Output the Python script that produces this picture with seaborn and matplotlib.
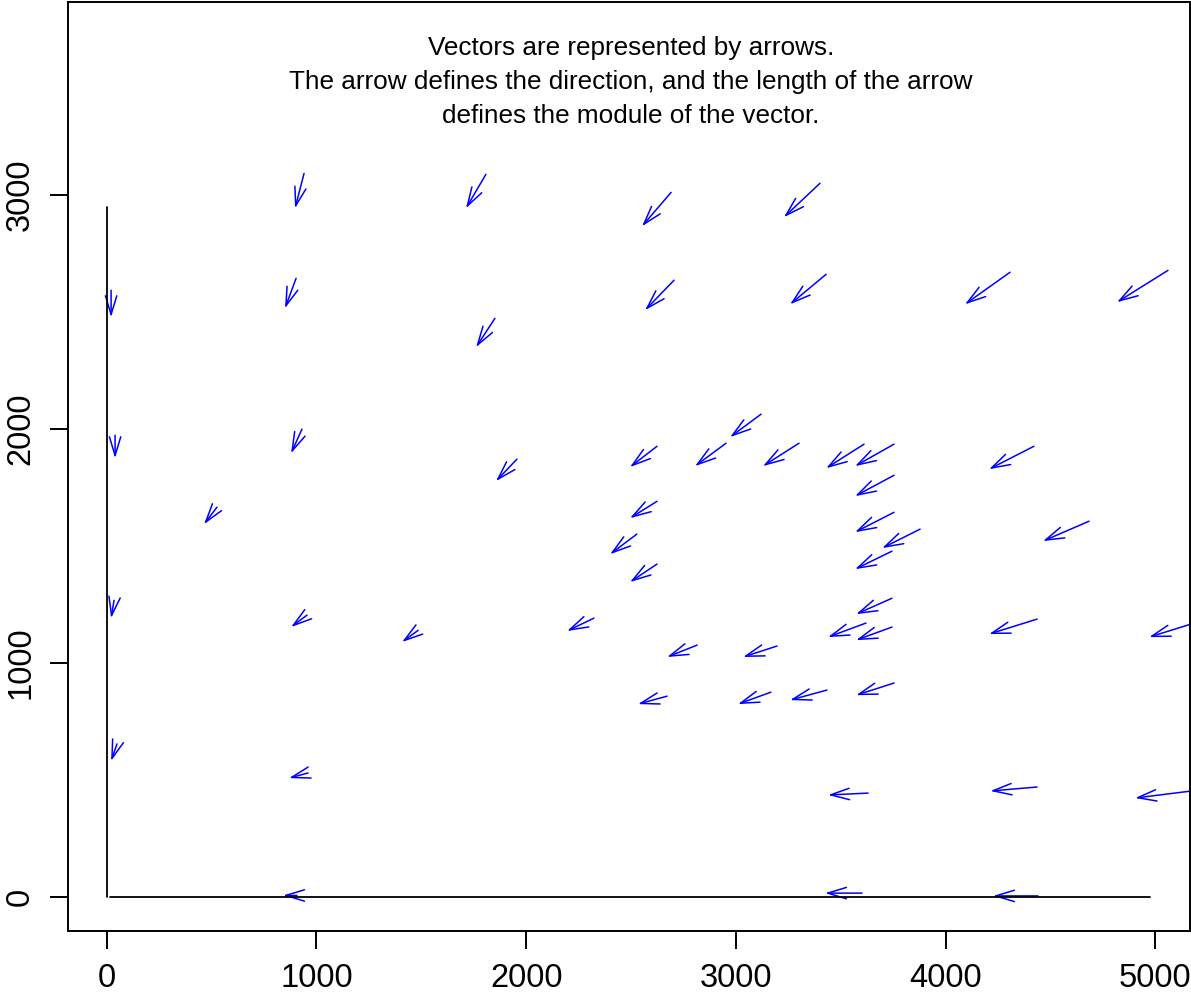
import numpy as np
import pandas as pd
import matplotlib
matplotlib.use("Agg")
import matplotlib.pyplot as plt
from matplotlib.patches import FancyArrowPatch
import seaborn as sns

# ---- data: arrow tails (x0, y0) and heads (x1, y1) ----
x0 = [941, 1808, 2691, 3401,
      21, 903, 2705, 3430, 4307, 5060, 1851,
      40, 931, 1956, 2624, 2953, 3120, 3301, 3611, 3754, 4421,
      3754, 2624, 526, 3754, 3878, 4684, 2528, 3744, 2624,
      35, 955, 1485, 2323, 3744, 3620, 3744, 5200, 4436,
      2815, 3196, 2672, 3167, 3434, 3754,
      49, 960, 3630, 4436, 5190,
      907, 3601, 4440]
y0 = [3091, 3087, 3010, 3049,
      2592, 2643, 2635, 2660, 2669, 2677, 2472,
      1973, 1999, 1871, 1926, 1939, 2063, 1939, 1935, 1935, 1926,
      1802, 1691, 1666, 1644, 1572, 1606, 1551, 1478, 1423,
      1268, 1205, 1140, 1192, 1277, 1171, 1154, 1175, 1188,
      1077, 1073, 859, 876, 885, 915,
      655, 531, 445, 471, 456,
      8, 18, 6]
x1 = [898, 1713, 2552, 3229,
      21, 850, 2567, 3258, 4092, 4817, 1761,
      40, 879, 1856, 2495, 2805, 2972, 3129, 3430, 3568, 4207,
      3568, 2495, 464, 3568, 3697, 4464, 2400, 3568, 2495,
      21, 879, 1408, 2195, 3573, 3439, 3573, 4970, 4207,
      2672, 3034, 2533, 3010, 3258, 3573,
      21, 869, 3439, 4213, 4903,
      841, 3425, 4226]
y1 = [2942, 2942, 2865, 2904,
      2477, 2515, 2507, 2532, 2532, 2541, 2349,
      1875, 1896, 1777, 1837, 1841, 1965, 1841, 1832, 1841, 1828,
      1713, 1619, 1593, 1559, 1491, 1521, 1465, 1401, 1346,
      1192, 1154, 1090, 1137, 1209, 1111, 1098, 1111, 1124,
      1026, 1026, 825, 825, 842, 863,
      582, 509, 437, 454, 424,
      8, 18, 6]

# reference axis lines drawn inside the plot
line_x = [0, 0, 15, 4975]
line_y = [0, 2946, 0, 0]
line_seg = ["v", "v", "h", "h"]

x_ticks = [0, 1000, 2000, 3000, 4000, 5000]
y_ticks = [0, 1000, 2000, 3000]

title_lines = ["Vectors are represented by arrows.",
               "The arrow defines the direction, and the length of the arrow",
               "defines the module of the vector."]

sns.set_theme(style="white")
plt.rcParams["font.family"] = ["Liberation Sans", "DejaVu Sans"]

fig = plt.figure(figsize=(11.91, 10), dpi=100)
W, H = 1191, 1000
ax = fig.add_axes([68 / W, (H - 930.7) / H, (1190 - 68) / W, (930.7 - 1.5) / H])

lines_df = pd.DataFrame({"x": line_x, "y": line_y, "seg": line_seg})
sns.lineplot(data=lines_df, x="x", y="y", units="seg", estimator=None,
             sort=False, color="black", linewidth=1.3, ax=ax, legend=False)

for a, b, c, d in zip(x0, y0, x1, y1):
    arr = FancyArrowPatch((a, b), (c, d),
                          arrowstyle="->,head_length=13.5,head_width=4.1",
                          mutation_scale=1, color="#0000ff", linewidth=1.1,
                          shrinkA=0, shrinkB=0)
    ax.add_patch(arr)

ax.text(2500, 3482, "\n".join(title_lines), ha="center", va="center",
        fontsize=18.8, linespacing=1.52, color="black")

ax.set_xlim(-184.5, 5165)
ax.set_ylim(-142.5, 3825)
ax.set_xticks(x_ticks)
ax.set_xticklabels([str(t) for t in x_ticks], fontsize=23.5)
ax.set_yticks(y_ticks)
ax.set_yticklabels([str(t) for t in y_ticks], fontsize=23.5, rotation=90, va="center")
ax.set_xlabel("")
ax.set_ylabel("")
ax.tick_params(axis="both", direction="out", length=13, width=1.4, color="black",
               labelcolor="black", bottom=True, left=True)
ax.tick_params(axis="x", pad=10)
ax.tick_params(axis="y", pad=10)
for s in ax.spines.values():
    s.set_color("black")
    s.set_linewidth(1.4)
    s.set_visible(True)
ax.grid(False)
ax.set_facecolor("white")
fig.patch.set_facecolor("white")

fig.savefig("out.png", dpi=100, facecolor="white")
